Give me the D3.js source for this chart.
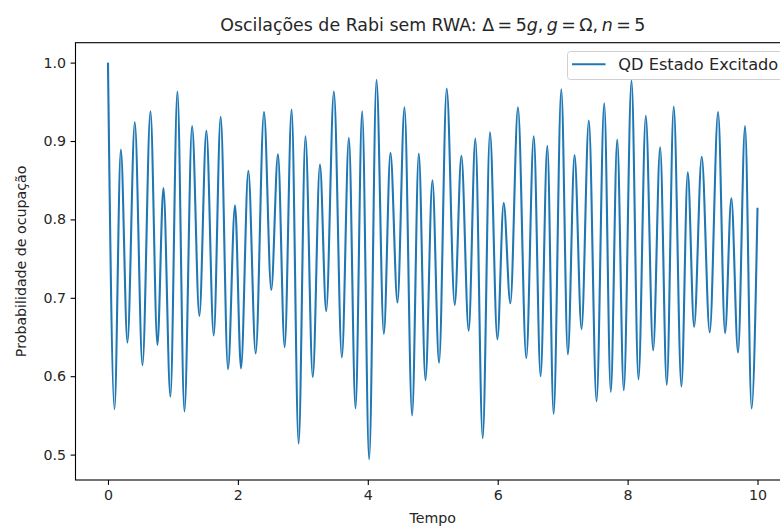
<!DOCTYPE html>
<html>
<head>
<meta charset="utf-8">
<script src="https://cdn.jsdelivr.net/npm/d3@7"></script>
<style>
  body { margin: 0; background: #fff; }
  svg { display: block; font-family: "DejaVu Sans", sans-serif; }
</style>
</head>
<body>
<svg id="chart" width="780" height="526"></svg>
<script>
// Extrema (time, occupation probability)
const times = [0.000, 0.100, 0.198, 0.300, 0.413, 0.531, 0.654, 0.761, 0.854, 0.961,
  1.069, 1.177, 1.295, 1.407, 1.515, 1.628, 1.735, 1.848, 1.956, 2.048,
  2.161, 2.274, 2.402, 2.514, 2.617, 2.720, 2.827, 2.935, 3.040, 3.153,
  3.263, 3.360, 3.478, 3.601, 3.709, 3.811, 3.913, 4.021, 4.134, 4.247,
  4.349, 4.457, 4.565, 4.682, 4.785, 4.888, 4.995, 5.097, 5.215, 5.338,
  5.441, 5.553, 5.656, 5.769, 5.881, 5.995, 6.092, 6.195, 6.312, 6.440,
  6.555, 6.660, 6.764, 6.861, 6.979, 7.080, 7.183, 7.291, 7.403, 7.522,
  7.640, 7.741, 7.840, 7.941, 8.060, 8.167, 8.280, 8.393, 8.501, 8.603,
  8.710, 8.828, 8.926, 9.024, 9.141, 9.264, 9.393, 9.500, 9.597, 9.700,
  9.808, 9.909, 10.000];
const probExcited = [1.000, 0.558, 0.889, 0.643, 0.924, 0.614, 0.938, 0.640, 0.840, 0.574,
  0.963, 0.555, 0.919, 0.677, 0.913, 0.652, 0.931, 0.609, 0.818, 0.610,
  0.862, 0.629, 0.937, 0.710, 0.883, 0.637, 0.940, 0.514, 0.906, 0.599,
  0.870, 0.683, 0.963, 0.624, 0.904, 0.559, 0.938, 0.494, 0.978, 0.654,
  0.885, 0.694, 0.943, 0.550, 0.884, 0.595, 0.850, 0.617, 0.967, 0.691,
  0.881, 0.658, 0.903, 0.521, 0.911, 0.647, 0.821, 0.693, 0.943, 0.623,
  0.906, 0.600, 0.894, 0.552, 0.966, 0.628, 0.882, 0.660, 0.926, 0.568,
  0.948, 0.580, 0.902, 0.582, 0.977, 0.596, 0.932, 0.633, 0.892, 0.589,
  0.944, 0.587, 0.860, 0.663, 0.880, 0.656, 0.937, 0.655, 0.827, 0.630,
  0.919, 0.559, 0.815];
const xTicks = [0, 2, 4, 6, 8, 10];
const yTicks = [0.5, 0.6, 0.7, 0.8, 0.9, 1.0];
const seriesName = "QD Estado Excitado";

const svg = d3.select("#chart");
const L = 75.5, R = 790, T = 42.7, B = 480;
const x = d3.scaleLinear().domain([-0.5, 10.5]).range([L, R]);
const y = d3.scaleLinear().domain([0.4676, 1.0254]).range([B, T]);

const data = times.map((t, i) => ({t, v: probExcited[i]}));

// line
svg.append("clipPath").attr("id", "clip")
  .append("rect").attr("x", L).attr("y", T).attr("width", R - L).attr("height", B - T);
svg.append("path")
  .datum(data)
  .attr("clip-path", "url(#clip)")
  .attr("fill", "none")
  .attr("stroke", "#1f77b4")
  .attr("stroke-width", 2.1)
  .attr("stroke-linejoin", "round")
  .attr("d", d3.line().x(d => x(d.t)).y(d => y(d.v)).curve(d3.curveMonotoneX));

// axes
const fs = 14.2;
const xAxis = svg.append("g").attr("transform", `translate(0,${B})`)
  .call(d3.axisBottom(x).tickValues(xTicks).tickFormat(d3.format("d")).tickSize(4.9).tickPadding(5));
const yAxis = svg.append("g").attr("transform", `translate(${L},0)`)
  .call(d3.axisLeft(y).tickValues(yTicks).tickFormat(d3.format(".1f")).tickSize(4.9).tickPadding(4.5));
[xAxis, yAxis].forEach(g => {
  g.select(".domain").remove();
  g.selectAll(".tick line").attr("stroke", "#000").attr("stroke-width", 1.1);
  g.selectAll(".tick text").attr("font-family", "DejaVu Sans").attr("font-size", fs).attr("fill", "#262626");
});

// spines
svg.append("rect").attr("x", L).attr("y", T).attr("width", R - L).attr("height", B - T)
  .attr("fill", "none").attr("stroke", "#000").attr("stroke-width", 1.1);

// labels
svg.append("text").attr("x", (L + R) / 2).attr("y", 523).attr("text-anchor", "middle")
  .attr("font-size", fs).attr("fill", "#262626").text("Tempo");
svg.append("text").attr("transform", `translate(26,${(T + B) / 2}) rotate(-90)`)
  .attr("text-anchor", "middle").attr("font-size", fs).attr("fill", "#262626")
  .text("Probabilidade de ocupação");

// title
const title = svg.append("text").attr("x", (L + R) / 2).attr("y", 31)
  .attr("text-anchor", "middle").attr("font-size", 17.4).attr("fill", "#262626");
title.append("tspan").text("Oscilações de Rabi sem RWA: Δ\u2009=\u20095");
title.append("tspan").attr("font-style", "italic").text("g");
title.append("tspan").text(",\u2009");
title.append("tspan").attr("font-style", "italic").text("g");
title.append("tspan").text("\u2009=\u2009Ω,\u2009");
title.append("tspan").attr("font-style", "italic").text("n");
title.append("tspan").text("\u2009=\u20095");

// legend
const lg = svg.append("g");
lg.append("rect").attr("x", 567.5).attr("y", 51.5).attr("width", 216).attr("height", 28)
  .attr("rx", 3).attr("fill", "#fff").attr("fill-opacity", 0.8)
  .attr("stroke", "#d0d0d0").attr("stroke-width", 1);
lg.append("line").attr("x1", 572).attr("x2", 605.5).attr("y1", 64.3).attr("y2", 64.3)
  .attr("stroke", "#1f77b4").attr("stroke-width", 2.1);
lg.append("text").attr("x", 618.3).attr("y", 70).attr("font-size", 16.2).attr("fill", "#262626")
  .text(seriesName);
</script>
</body>
</html>
